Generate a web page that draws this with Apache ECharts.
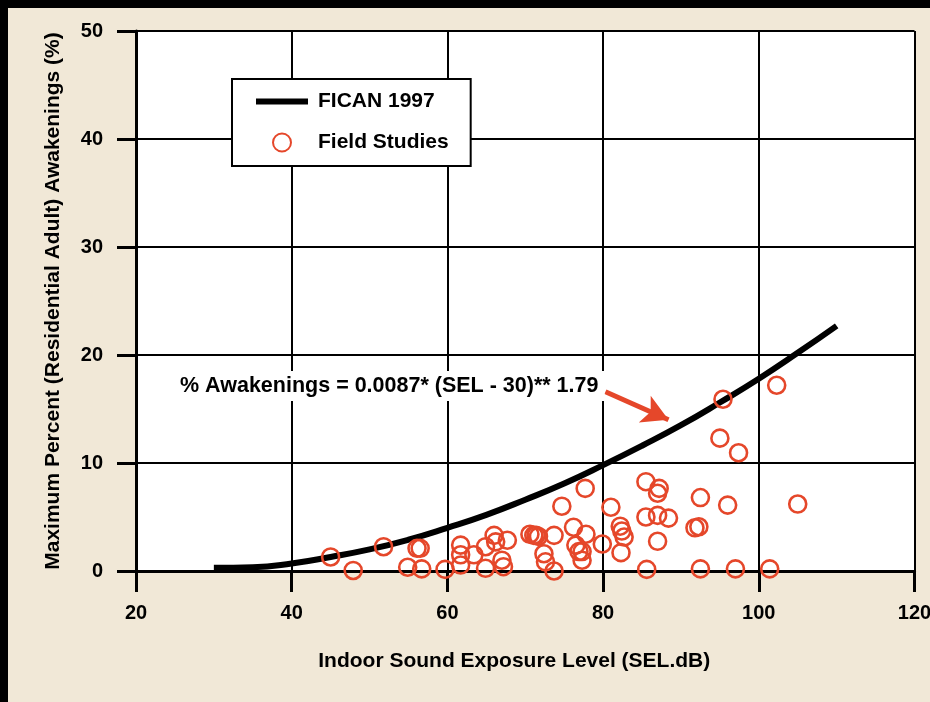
<!DOCTYPE html>
<html>
<head>
<meta charset="utf-8">
<script src="https://cdn.jsdelivr.net/npm/echarts@6/dist/echarts.min.js"></script>
<style>
  html, body { margin: 0; padding: 0; background: #f1e8d7; }
  #chart { width: 930px; height: 702px; }
</style>
</head>
<body>
<div id="chart"></div>
<script>
// FICAN 1997 curve
const ficanSel = [30, 35, 40, 45, 50, 55, 60, 65, 70, 75, 80, 85, 90, 95, 100, 105, 110];
const ficanPct = [0.3, 0.35, 0.7, 1.3, 2.0, 2.9, 4.0, 5.2, 6.6, 8.1, 9.8, 11.6, 13.5, 15.6, 17.8, 20.2, 22.7];

// field study points (SEL dB, % awakenings)
const fieldSel = [45.0, 47.9, 51.8, 54.9, 56.1, 56.5, 56.7, 59.7, 61.7, 61.7, 61.7, 63.4, 64.9, 64.9,
  66.0, 66.2, 67.7, 67.0, 67.2, 70.6, 71.1, 71.4, 71.7, 73.7, 72.4, 72.6, 73.7, 74.7, 76.2, 77.8,
  76.5, 76.9, 77.3, 77.3, 77.7, 79.9, 81.0, 85.5, 87.2, 87.0, 85.5, 87.0, 88.4, 82.2, 82.4, 82.7,
  82.3, 87.0, 91.8, 92.3, 92.5, 96.0, 105.0, 95.0, 97.4, 95.4, 102.3, 85.6, 92.5, 97.0, 101.4];
const fieldPct = [1.3, 0.05, 2.25, 0.35, 2.1, 2.1, 0.2, 0.15, 2.4, 1.5, 0.55, 1.5, 2.25, 0.25,
  3.3, 2.7, 2.85, 1.0, 0.4, 3.4, 3.3, 3.3, 3.2, 3.3, 1.6, 0.85, 0.0, 6.0, 4.05, 3.4,
  2.4, 1.8, 1.8, 1.0, 7.65, 2.5, 5.9, 8.27, 7.65, 7.2, 5.0, 5.15, 4.9, 4.15, 3.7, 3.15,
  1.7, 2.75, 4.0, 4.1, 6.8, 6.1, 6.2, 12.3, 10.95, 15.9, 17.2, 0.15, 0.2, 0.2, 0.2];

// arrow from the formula label to the curve
const arrowFrom = [80.3, 16.6];
const arrowTo = [88.4, 14.0];

const formulaText = '% Awakenings = 0.0087* (SEL - 30)** 1.79';

const RED = '#e5472a';
const FONT = '"Liberation Sans", Arial, sans-serif';

const chart = echarts.init(document.getElementById('chart'));

chart.setOption({
  backgroundColor: '#f1e8d7',
  animation: false,
  textStyle: { fontFamily: FONT },
  grid: {
    left: 136, top: 31, right: 15.5, bottom: 131,
    outerBoundsMode: 'none',
    show: true, backgroundColor: '#ffffff', borderWidth: 0
  },
  legend: {
    left: 232, top: 79,
    orient: 'vertical',
    backgroundColor: '#ffffff',
    borderColor: '#000000',
    borderWidth: 2,
    padding: [12, 22, 13, 24],
    itemGap: 20,
    itemWidth: 52,
    itemHeight: 18,
    textStyle: { fontSize: 21, fontWeight: 'bold', color: '#000', padding: [0, 0, 0, 5], fontFamily: FONT },
    data: [
      { name: 'FICAN 1997', icon: 'path://M0,0L52,0L52,6L0,6Z' },
      'Field Studies'
    ]
  },
  xAxis: {
    type: 'value',
    min: 20, max: 120, interval: 20,
    name: 'Indoor Sound Exposure Level (SEL.dB)',
    nameLocation: 'middle',
    nameGap: 80,
    nameTextStyle: { fontSize: 21, fontWeight: 'bold', color: '#000', padding: [0, 22, 0, 0] },
    axisLine: { lineStyle: { color: '#000', width: 3 } },
    axisTick: { length: 21, lineStyle: { color: '#000', width: 3 } },
    axisLabel: { fontSize: 20, fontWeight: 'bold', color: '#000', margin: 32 },
    splitLine: { lineStyle: { color: '#000', width: 2 } }
  },
  yAxis: {
    type: 'value',
    min: 0, max: 50, interval: 10,
    name: 'Maximum Percent (Residential Adult) Awakenings (%)',
    nameLocation: 'middle',
    nameGap: 72,
    nameTextStyle: { fontSize: 21, fontWeight: 'bold', color: '#000' },
    axisLine: { show: true, lineStyle: { color: '#000', width: 3 } },
    axisTick: { show: true, length: 19, lineStyle: { color: '#000', width: 3 } },
    axisLabel: { fontSize: 20, fontWeight: 'bold', color: '#000', margin: 33 },
    splitLine: { lineStyle: { color: '#000', width: 2 } }
  },
  series: [
    {
      name: 'FICAN 1997',
      type: 'line',
      smooth: true,
      symbol: 'none',
      z: 3,
      lineStyle: { color: '#000', width: 6 },
      itemStyle: { color: '#000' },
      data: ficanSel.map((x, i) => [x, ficanPct[i]]),
      markLine: {
        silent: true,
        symbol: ['none', 'arrow'],
        symbolSize: [22, 26],
        label: { show: false },
        lineStyle: { color: RED, width: 5, type: 'solid' },
        data: [[{ coord: arrowFrom }, { coord: arrowTo }]]
      }
    },
    {
      name: 'Field Studies',
      type: 'scatter',
      symbol: 'circle',
      symbolSize: 17,
      z: 4,
      itemStyle: { color: 'rgba(0,0,0,0)', borderColor: RED, borderWidth: 2.6, opacity: 1 },
      data: fieldSel.map((x, i) => [x, fieldPct[i]])
    }
  ],
  graphic: [
    { type: 'rect', left: 0, top: 0, shape: { width: 8, height: 702 }, style: { fill: '#000' } },
    { type: 'rect', left: 0, top: 0, shape: { width: 930, height: 8 }, style: { fill: '#000' } },
    {
      type: 'text', left: 174, top: 371, z: 10,
      style: {
        text: formulaText,
        fontSize: 21.5, fontWeight: 'bold', fontFamily: FONT, fill: '#000',
        backgroundColor: '#ffffff', padding: [4, 6]
      }
    }
  ]
});
</script>
</body>
</html>
